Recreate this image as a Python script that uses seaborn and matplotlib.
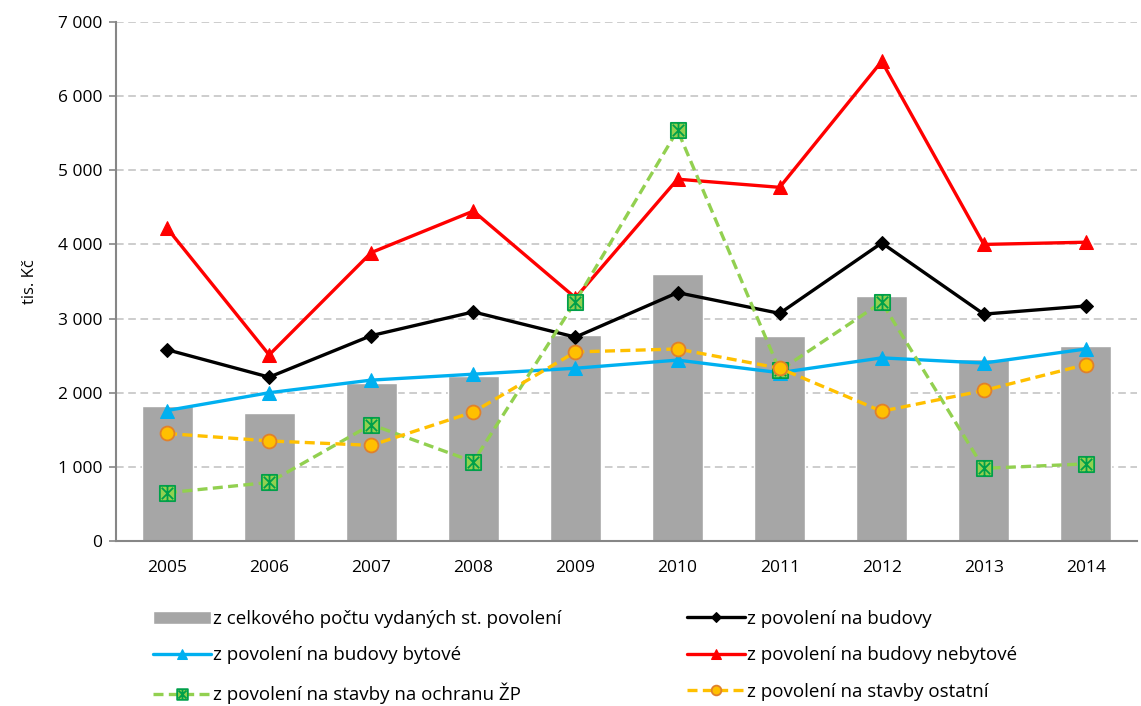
import numpy as np
import pandas as pd
import matplotlib
matplotlib.use("Agg")
import matplotlib.pyplot as plt
import seaborn as sns
from matplotlib.path import Path
from matplotlib.ticker import FuncFormatter, FixedLocator

years = ["2005", "2006", "2007", "2008", "2009", "2010", "2011", "2012", "2013", "2014"]
celkem = [1820, 1730, 2130, 2230, 2780, 3600, 2760, 3300, 2460, 2630]
budovy = [2580, 2210, 2770, 3090, 2750, 3350, 3070, 4020, 3060, 3170]
bytove = [1760, 2000, 2170, 2250, 2330, 2440, 2270, 2470, 2400, 2590]
nebytove = [4220, 2510, 3890, 4450, 3280, 4880, 4770, 6470, 4000, 4030]
ochrana_zp = [650, 790, 1570, 1070, 3230, 5540, 2300, 3220, 980, 1040]
ostatni = [1450, 1350, 1290, 1740, 2550, 2590, 2330, 1750, 2030, 2380]

labels = [
    "z celkového počtu vydaných st. povolení",
    "z povolení na budovy",
    "z povolení na budovy bytové",
    "z povolení na budovy nebytové",
    "z povolení na stavby na ochranu ŽP",
    "z povolení na stavby ostatní",
]
y_ticks = [0, 1000, 2000, 3000, 4000, 5000, 6000, 7000]

sns.set_theme(style="white")
plt.rcParams["font.family"] = ["Open Sans", "DejaVu Sans"]
plt.rcParams["text.color"] = "black"
plt.rcParams["axes.labelcolor"] = "black"

fig = plt.figure(figsize=(11.41, 7.06), dpi=100)
ax = fig.add_axes([116 / 1141, 1 - 541 / 706, (1137 - 116) / 1141, (541 - 22) / 706])

df = pd.DataFrame({"year": years, "celkem": celkem})
sns.barplot(data=df, x="year", y="celkem", color="#A6A6A6", saturation=1,
            width=0.5, ax=ax, label=labels[0], zorder=2)

pos = np.arange(len(years))

# star marker: square with asterisk
star_verts = [(-1, -1), (1, -1), (1, 1), (-1, 1), (-1, -1),
              (-0.75, -0.75), (0.75, 0.75),
              (-0.75, 0.75), (0.75, -0.75),
              (0, -0.95), (0, 0.95)]
star_codes = [Path.MOVETO, Path.LINETO, Path.LINETO, Path.LINETO, Path.CLOSEPOLY,
              Path.MOVETO, Path.LINETO, Path.MOVETO, Path.LINETO, Path.MOVETO, Path.LINETO]
star_marker = Path(star_verts, star_codes)

series = [
    (budovy, labels[1], dict(color="black", marker="D", markersize=7, markerfacecolor="black",
                             markeredgecolor="black", linestyle="-")),
    (bytove, labels[2], dict(color="#00B0F0", marker="^", markersize=10, markerfacecolor="#00B0F0",
                             markeredgecolor="#00B0F0", linestyle="-")),
    (nebytove, labels[3], dict(color="#FF0000", marker="^", markersize=10, markerfacecolor="#FF0000",
                               markeredgecolor="#FF0000", linestyle="-")),
    (ochrana_zp, labels[4], dict(color="#92D050", marker=star_marker, markersize=11, markerfacecolor="#92D050",
                                 markeredgecolor="#00A04A", markeredgewidth=1.3, dashes=(3, 1.6))),
    (ostatni, labels[5], dict(color="#FFC000", marker="o", markersize=10, markerfacecolor="#FFC000",
                              markeredgecolor="#E0812B", markeredgewidth=1.3, dashes=(3, 1.6))),
]
for vals, lab, kw in series:
    sns.lineplot(x=pos, y=vals, ax=ax, label=lab, linewidth=2.4, zorder=3, legend=False, **kw)

if ax.get_legend() is not None:
    ax.get_legend().remove()

ax.set_xlim(-0.5, len(years) - 0.5)
ax.set_ylim(0, 7000)
ax.set_yticks(y_ticks)
ax.yaxis.set_major_formatter(FuncFormatter(lambda v, p: f"{int(v):,}".replace(",", " ")))
ax.set_xticks(pos)
ax.set_xticklabels(years)
ax.xaxis.set_minor_locator(FixedLocator(np.arange(-0.5, len(years), 1.0)))
ax.tick_params(axis="x", which="major", length=0, labelsize=12.5, pad=14, labelcolor="black")
ax.tick_params(axis="x", which="minor", length=5, width=1.2, color="#868686", direction="out")
ax.tick_params(axis="y", which="major", length=5, width=1.2, color="#868686", direction="out",
               labelsize=12.5, pad=5, left=True, labelcolor="black")
ax.set_xlabel("")
ax.set_ylabel("tis. Kč", fontsize=12, labelpad=14)
ax.grid(axis="y", color="#C0C0C0", linestyle=(0, (5, 3)), linewidth=1.1, zorder=0)
ax.set_axisbelow(True)
for s in ["top", "right"]:
    ax.spines[s].set_visible(False)
for s in ["left", "bottom"]:
    ax.spines[s].set_color("#868686")
    ax.spines[s].set_linewidth(1.5)

handles, labs = ax.get_legend_handles_labels()
hmap = dict(zip(labs, handles))
order = [labels[0], labels[2], labels[4], labels[1], labels[3], labels[5]]
fig.legend([hmap[l] for l in order], order, loc="upper left", bbox_to_anchor=(153 / 1141, 1 - 610 / 706),
           ncol=2, frameon=False, fontsize=13.5, handlelength=3.1, handletextpad=0.1,
           columnspacing=6.7, labelspacing=0.98, borderaxespad=0, borderpad=0, markerscale=0.7)

fig.savefig("out.png", dpi=100)
